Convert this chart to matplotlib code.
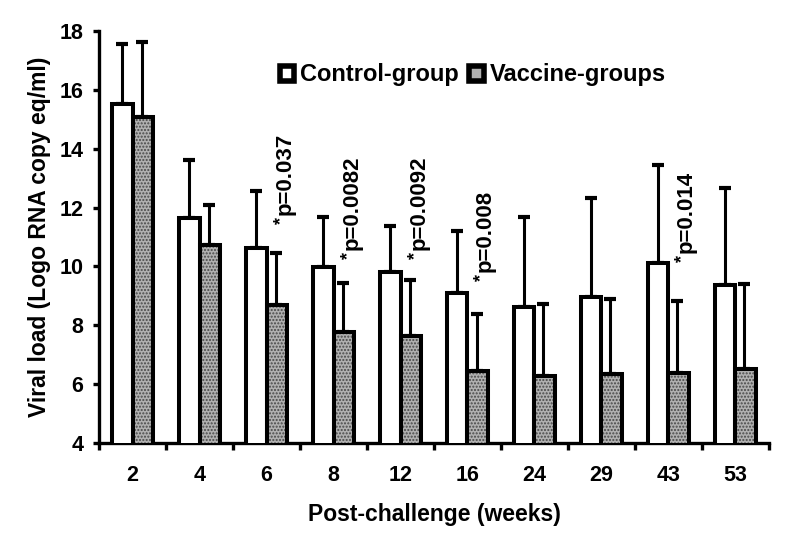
import matplotlib
matplotlib.use("Agg")
import matplotlib.pyplot as plt
import numpy as np
from matplotlib.patches import Rectangle

weeks = ["2", "4", "6", "8", "12", "16", "24", "29", "43", "53"]
control_mean = [15.52, 11.66, 10.61, 9.99, 9.80, 9.10, 8.61, 8.95, 10.12, 9.37]
control_upper = [17.56, 13.63, 12.57, 11.68, 11.38, 11.20, 11.68, 12.31, 13.45, 12.67]
vaccine_mean = [15.09, 10.72, 8.69, 7.78, 7.63, 6.46, 6.29, 6.33, 6.37, 6.50]
vaccine_upper = [17.64, 12.08, 10.46, 9.44, 9.53, 8.37, 8.74, 8.88, 8.82, 9.40]
pvalue_weeks = ["6", "8", "12", "16", "43"]
pvalue_text = ["p=0.037", "p=0.0082", "p=0.0092", "p=0.008", "p=0.014"]
pvalue_y = [11.45, 10.25, 10.25, 9.5, 10.15]

plt.rcParams['font.family'] = ['Liberation Sans', 'DejaVu Sans']
plt.rcParams['font.weight'] = 'bold'

fig = plt.figure(figsize=(8.0, 5.48), dpi=100)
ax = fig.add_axes([0.124, 0.1916, 0.837, 0.7518])

x = np.arange(len(weeks))
w = 0.31
lw = 2.9
ctrl_err = np.array(control_upper) - np.array(control_mean)
vac_err = np.array(vaccine_upper) - np.array(vaccine_mean)

ax.bar(x - w/2, control_mean, w, color='white', edgecolor='black', linewidth=lw, zorder=3)
# stipple fill for vaccine bars
ax.bar(x + w/2, vaccine_mean, w, color='#b0b0b0', edgecolor='#484848', hatch='.....', linewidth=0, zorder=3)
ax.bar(x + w/2, vaccine_mean, w, fill=False, edgecolor='black', linewidth=lw, zorder=4)

ax.errorbar(x - w/2, control_mean, yerr=[np.zeros(len(x)), ctrl_err], fmt='none',
            ecolor='black', elinewidth=2.2, capsize=4.5, capthick=3.0, zorder=2)
ax.errorbar(x + w/2 - 0.02, vaccine_mean, yerr=[np.zeros(len(x)), vac_err], fmt='none',
            ecolor='black', elinewidth=2.2, capsize=4.5, capthick=3.0, zorder=2)

for wk, txt, yy in zip(pvalue_weeks, pvalue_text, pvalue_y):
    i = weeks.index(wk)
    ax.annotate('*', xy=(i + 0.27, yy), xytext=(-2.5, 0), textcoords='offset points',
                rotation=90, ha='center', va='bottom', fontsize=13, fontweight='bold')
    ax.annotate(txt, xy=(i + 0.27, yy), xytext=(0, 6.5), textcoords='offset points',
                rotation=90, ha='center', va='bottom', fontsize=16, fontweight='bold')

ax.set_xlim(-0.5, len(weeks) - 0.5)
ax.set_ylim(4, 18)
ax.set_yticks(np.arange(4, 19, 2))
ax.set_xticks(x)
ax.set_xticklabels(weeks)
ax.set_xticks(np.arange(-0.5, len(weeks), 1.0), minor=True)
ax.tick_params(axis='x', which='major', length=0, pad=16, labelsize=15.5)
ax.tick_params(axis='x', which='minor', length=5, width=2.4, direction='out')
ax.tick_params(axis='y', which='major', length=4.5, width=2.4, direction='out', labelsize=15.5, pad=7)
for lab in ax.get_xticklabels() + ax.get_yticklabels():
    lab.set_fontweight('bold')

for s in ['top', 'right']:
    ax.spines[s].set_visible(False)
for s in ['left', 'bottom']:
    ax.spines[s].set_linewidth(2.4)

ax.set_xlabel('Post-challenge (weeks)', fontsize=16.5, fontweight='bold', labelpad=12)
ax.set_ylabel('Viral load (Logo RNA copy eq/ml)', fontsize=16.5, fontweight='bold', labelpad=6)

h1 = Rectangle((0, 0), 1, 1, facecolor='white', edgecolor='black', linewidth=4)
h2 = Rectangle((0, 0), 1, 1, facecolor='#b0b0b0', edgecolor='black', linewidth=4)
leg = ax.legend([h1, h2], ['Control-group', 'Vaccine-groups'], loc='center left',
                bbox_to_anchor=(280/800, 1 - 75/548), bbox_transform=fig.transFigure,
                ncol=2, frameon=False, handlelength=0.6, borderpad=0, borderaxespad=0,
                handleheight=0.6, handletextpad=0.25, columnspacing=0.45,
                prop={'weight': 'bold', 'size': 17})

fig.savefig('out.png', dpi=100)
